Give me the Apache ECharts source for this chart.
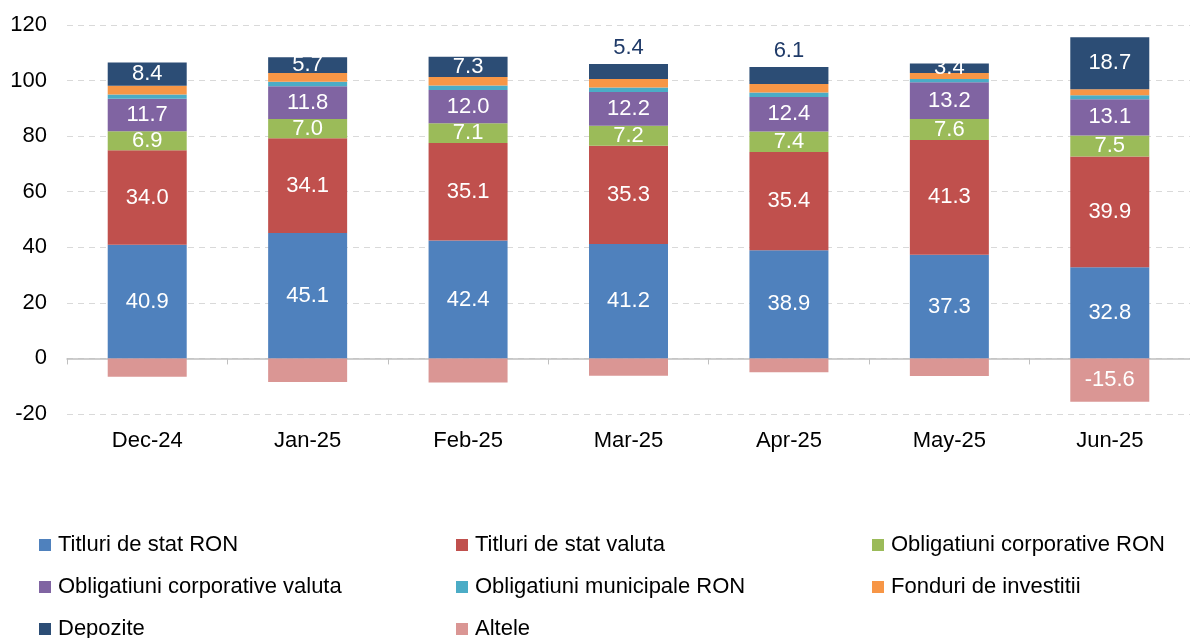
<!DOCTYPE html>
<html>
<head>
<meta charset="utf-8">
<script src="https://cdn.jsdelivr.net/npm/echarts@6/dist/echarts.min.js"></script>
<style>
html,body{margin:0;padding:0;background:#fff;}
#chart{width:1190px;height:638px;}
</style>
</head>
<body>
<div id="chart"></div>
<script>
const categories = ['Dec-24','Jan-25','Feb-25','Mar-25','Apr-25','May-25','Jun-25'];
const titluriRON      = [40.9, 45.1, 42.4, 41.2, 38.9, 37.3, 32.8];
const titluriValuta   = [34.0, 34.1, 35.1, 35.3, 35.4, 41.3, 39.9];
const corpRON         = [6.9, 7.0, 7.1, 7.2, 7.4, 7.6, 7.5];
const corpValuta      = [11.7, 11.8, 12.0, 12.2, 12.4, 13.2, 13.1];
const municipaleRON   = [1.5, 1.6, 1.6, 1.6, 1.6, 1.2, 1.4];
const fonduri         = [3.1, 3.1, 3.1, 3.1, 3.1, 2.1, 2.2];
const depozite        = [8.4, 5.7, 7.3, 5.4, 6.1, 3.4, 18.7];
const altele          = [-6.6, -8.5, -8.7, -6.2, -5.0, -6.3, -15.6];
const yTicks = [-20, 0, 20, 40, 60, 80, 100, 120];

const FONT = '"Liberation Sans", Arial, sans-serif';
const depozitOutside = ['Mar-25', 'Apr-25'];

function lbl(show) {
  return {
    show: show, position: 'inside', color: '#fff', fontFamily: FONT, fontSize: 22,
    formatter: p => p.value.toFixed(1)
  };
}

const seriesDefs = [
  {name: 'Titluri de stat RON', data: titluriRON, color: '#4F81BD', label: lbl(true)},
  {name: 'Titluri de stat valuta', data: titluriValuta, color: '#C0504D', label: lbl(true)},
  {name: 'Obligatiuni corporative RON', data: corpRON, color: '#9BBB59', label: lbl(true)},
  {name: 'Obligatiuni corporative valuta', data: corpValuta, color: '#8064A2', label: lbl(true)},
  {name: 'Obligatiuni municipale RON', data: municipaleRON, color: '#4BACC6', label: lbl(false)},
  {name: 'Fonduri de investitii', data: fonduri, color: '#F79646', label: lbl(false)},
  {name: 'Depozite', data: depozite.map((v, i) => depozitOutside.includes(categories[i]) ?
      {value: v, label: {position: 'top', distance: 5, color: '#1F3A68'}} : v),
    color: '#2C4D75', label: lbl(true)},
  {name: 'Altele', data: altele.map(v => Math.abs(v) >= 10 ? {value: v, label: {show: true}} : v),
    color: '#DA9694', label: lbl(false)}
];

const series = seriesDefs.map(s => ({
  name: s.name, type: 'bar', stack: 'total', xAxisIndex: 0,
  barWidth: 79, data: s.data, itemStyle: {color: s.color},
  label: s.label, emphasis: {disabled: true}
}));

// legend layout: 3 columns, rows in reading order
const colLeft = [39, 456, 872];
const rowTop = [534, 576, 618];
const legends = seriesDefs.map((s, i) => ({
  orient: 'horizontal', icon: 'rect', itemWidth: 12, itemHeight: 12, itemGap: 0,
  textStyle: {fontFamily: FONT, fontSize: 22, color: '#000', padding: [0, 0, 0, 2]},
  left: colLeft[i % 3], top: rowTop[Math.floor(i / 3)], padding: 0,
  selectedMode: false, data: [s.name]
}));

const chart = echarts.init(document.getElementById('chart'));
chart.setOption({
  animation: false,
  backgroundColor: '#fff',
  grid: {left: 67, top: 25, width: 1132, height: 389, containLabel: false},
  legend: legends,
  xAxis: [
    {type: 'category', data: categories, position: 'bottom',
     axisLine: {show: false, onZero: false}, axisTick: {show: false},
     axisLabel: {fontFamily: FONT, fontSize: 22, color: '#000', margin: 16}},
    {type: 'category', data: categories, position: 'bottom',
     axisLine: {show: true, onZero: true, lineStyle: {color: '#BFBFBF', width: 1.5}},
     axisTick: {show: true, length: 6, lineStyle: {color: '#BFBFBF'}},
     axisLabel: {show: false}}
  ],
  yAxis: {
    type: 'value', min: yTicks[0], max: yTicks[yTicks.length - 1], interval: 20,
    axisLine: {show: false}, axisTick: {show: false},
    axisLabel: {fontFamily: FONT, fontSize: 22, color: '#000', margin: 20},
    splitLine: {lineStyle: {color: '#D9D9D9', type: [6, 5], width: 1}}
  },
  series: series
});
</script>
</body>
</html>
